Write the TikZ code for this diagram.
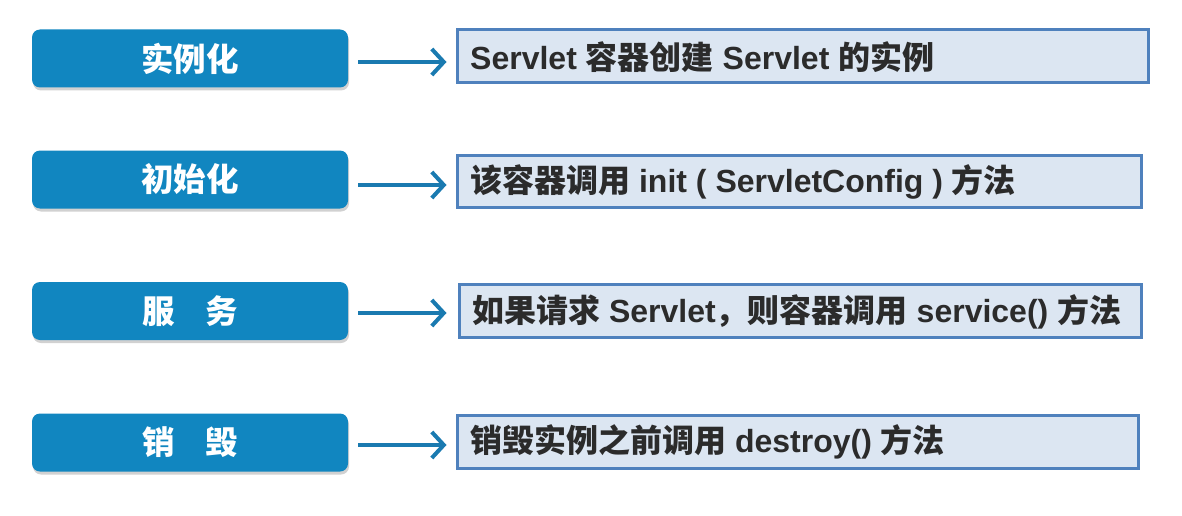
\documentclass[tikz,border=0pt]{standalone}
\usepackage{fontspec}
\setmainfont{Liberation Sans}
\newfontfamily\cjk{Noto Sans CJK SC}
\usetikzlibrary{arrows.meta,shadows}
\definecolor{lblue}{HTML}{1186C0}
\definecolor{rfill}{HTML}{DCE6F2}
\definecolor{rdraw}{HTML}{4F81BD}
\definecolor{arrc}{HTML}{1A7AB0}
\definecolor{txt}{HTML}{2B2B2B}
\newcommand{\zh}[1]{{\cjk #1}}
\tikzset{
  leftbox/.style={draw=none, fill=lblue, rounded corners=8pt, minimum width=316pt, minimum height=58pt,
    text=white, font=\cjk\bfseries\fontsize{32.5}{32.5}\selectfont, inner sep=0pt,
    drop shadow={shadow xshift=1pt, shadow yshift=-3pt, opacity=0.3, fill=black!60}},
  rightbox/.style={draw=rdraw, line width=3pt, fill=rfill, minimum height=53pt, inner sep=0pt},
  rtext/.style={anchor=west, text=txt, font=\bfseries\fontsize{32}{32}\selectfont, inner sep=0pt},
  arr/.style={draw=arrc, line width=4pt, -{Straight Barb[length=12pt,width=26pt,line width=4pt]}}
}
\begin{document}
\begin{tikzpicture}[x=1pt,y=-1pt]
\useasboundingbox (0,0) rectangle (1182,516);
% left boxes
\node[leftbox] (l1) at (190,58.5) {实例化};
\node[leftbox] (l2) at (190,179.5) {初始化};
\node[leftbox] (l3) at (190,311) {服\hspace{0.95em}务};
\node[leftbox] (l4) at (190,442.5) {销\hspace{0.95em}毁};
% right boxes
\node[rightbox, minimum width=691pt] (r1) at (802.5,56.5) {};
\node[rightbox, minimum width=684pt, minimum height=52pt] (r2) at (799,181) {};
\node[rightbox, minimum width=682pt] (r3) at (800,310.5) {};
\node[rightbox, minimum width=681pt] (r4) at (797.5,441.5) {};
% texts
\node[rtext] (t1) at (470,57) {Servlet \zh{容器创建} Servlet \zh{的实例}};
\node[rtext] (t2) at (470,182) {\zh{该容器调用} init ( ServletConfig ) \zh{方法}};
\node[rtext] (t3) at (472,312) {\zh{如果请求} Servlet\zh{，则容器调用} service() \zh{方法}};
\node[rtext] (t4) at (470,442) {\zh{销毁实例之前调用} destroy() \zh{方法}};
% arrows
\draw[arr] ([xshift=10pt,yshift=-3.5pt]l1.east) -- ([xshift=-9pt,yshift=-3.5pt]l1.east -| r1.west);
\draw[arr] ([xshift=10pt,yshift=-5.5pt]l2.east) -- ([xshift=-9pt,yshift=-5.5pt]l2.east -| r2.west);
\draw[arr] ([xshift=10pt,yshift=-2pt]l3.east) -- ([xshift=-11pt,yshift=-2pt]l3.east -| r3.west);
\draw[arr] ([xshift=10pt,yshift=-2.5pt]l4.east) -- ([xshift=-9pt,yshift=-2.5pt]l4.east -| r4.west);
\end{tikzpicture}
\end{document}
